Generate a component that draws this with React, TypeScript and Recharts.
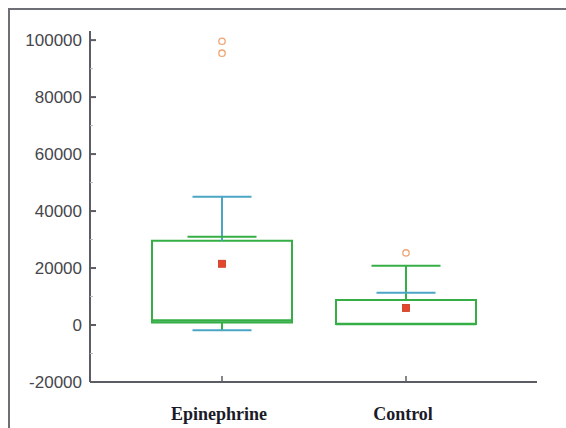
import { ComposedChart, Bar, Scatter, XAxis, YAxis, ReferenceLine } from "recharts";

// values
const GROUPS = ["Epinephrine", "Control"];
const Q1 = [900, 400];
const MEDIAN = [1600, 400];
const Q3 = [29600, 8800];
const MEAN = [21500, 6000];
const BLUE_CAP = [45000, 11300];
const GREEN_CAP = [31000, 20800];
const LOW_CAP = [-1800, null];
const OUTLIERS = [[99600, 95400], [25300]];
const Y_TICKS = [-20000, -10000, 0, 10000, 20000, 30000, 40000, 50000, 60000, 70000, 80000, 90000, 100000];

const GREEN = "#35ae46";
const BLUE = "#4ba6c6";
const AXIS = "#5c5c64";

const boxRows = GROUPS.map((name, i) => ({ name, box: [Q1[i], Q3[i]] }));
const medianPts = GROUPS.map((name, i) => ({ name, v: MEDIAN[i] }));
const meanPts = GROUPS.map((name, i) => ({ name, v: MEAN[i] }));
const bluePts = GROUPS.map((name, i) => ({ name, v: BLUE_CAP[i] }));
const greenPts = GROUPS.map((name, i) => ({ name, v: GREEN_CAP[i] }));
const lowPts = GROUPS.flatMap((name, i) => (LOW_CAP[i] == null ? [] : [{ name, v: LOW_CAP[i] }]));
const outlierPts = GROUPS.flatMap((name, i) => OUTLIERS[i].map((v) => ({ name, v })));

const hLine = (w: number, color: string, sw = 2) => (p: any) => (
  <line x1={p.cx - w / 2} x2={p.cx + w / 2} y1={p.cy} y2={p.cy} stroke={color} strokeWidth={sw} />
);

const meanShape = (p: any) => (
  <rect x={p.cx - 3.5} y={p.cy - 3.5} width={7} height={7} fill="#e4472e" stroke="#c8381f" strokeWidth={0.8} />
);

const outlierShape = (p: any) => (
  <circle cx={p.cx} cy={p.cy} r={3.2} fill="#fff" stroke="#f0a474" strokeWidth={1.3} />
);

const YTick = ({ x, y, payload }: any) => {
  const major = payload.value % 20000 === 0;
  return (
    <g>
      <line x1={x} x2={x + (major ? 6 : 3)} y1={y} y2={y} stroke={major ? AXIS : "#b8b8be"} strokeWidth={major ? 2 : 1} />
      {major && (
        <text x={x - 8} y={y} dy="0.35em" textAnchor="end" fontSize={17} fill="#46464b"
          fontFamily="'Liberation Sans', Arial, sans-serif">
          {payload.value}
        </text>
      )}
    </g>
  );
};

const XTick = ({ x, y, payload }: any) => (
  <g>
    <line x1={x} x2={x} y1={y} y2={y - 6} stroke={AXIS} strokeWidth={1.5} />
    <text x={x - 3} y={y + 38} textAnchor="middle" fontSize={18} fontWeight="bold" fill="#1b1b28"
      fontFamily="'Liberation Serif', 'Times New Roman', serif">
      {payload.value}
    </text>
  </g>
);

export default function App() {
  return (
    <div
      style={{
        position: "absolute",
        top: 8,
        left: 8,
        width: 556,
        height: 418,
        borderTop: "2px solid #6e6e76",
        borderLeft: "2px solid #6e6e76",
        background: "#fff",
      }}
    >
      <ComposedChart width={556} height={418} data={boxRows} margin={{ top: 21, right: 29, bottom: 0, left: 0 }}>
        <XAxis
          dataKey="name"
          allowDuplicatedCategory={false}
          padding={{ left: 40, right: 39 }}
          height={46}
          tickSize={0}
          tickMargin={0}
          tick={<XTick />}
          axisLine={{ stroke: AXIS, strokeWidth: 2 }}
        />
        <YAxis
          type="number"
          domain={[-20000, 103200]}
          ticks={Y_TICKS}
          interval={0}
          width={80}
          tickSize={0}
          tickMargin={0}
          tick={<YTick />}
          axisLine={{ stroke: AXIS, strokeWidth: 2 }}
          allowDataOverflow
        />
        <Bar dataKey="box" barSize={140} fill="none" stroke={GREEN} strokeWidth={2} isAnimationActive={false} />
        {GROUPS.map((name, i) => {
          const top = Math.max(BLUE_CAP[i], GREEN_CAP[i]);
          return (
            <ReferenceLine key={name + "up"} segment={[{ x: name, y: top }, { x: name, y: Q3[i] }]}
              stroke={top === BLUE_CAP[i] ? BLUE : GREEN} strokeWidth={2} />
          );
        })}
        {GROUPS.map((name, i) =>
          LOW_CAP[i] == null ? null : (
            <ReferenceLine key={name + "lo"} segment={[{ x: name, y: Q1[i] }, { x: name, y: LOW_CAP[i] as number }]}
              stroke={GREEN} strokeWidth={2} />
          )
        )}
        <Scatter data={medianPts} dataKey="v" shape={hLine(140, GREEN, 2.5)} isAnimationActive={false} />
        <Scatter data={greenPts} dataKey="v" shape={hLine(69, GREEN)} isAnimationActive={false} />
        <Scatter data={bluePts} dataKey="v" shape={hLine(59, BLUE)} isAnimationActive={false} />
        <Scatter data={lowPts} dataKey="v" shape={hLine(59, BLUE)} isAnimationActive={false} />
        <Scatter data={meanPts} dataKey="v" shape={meanShape} isAnimationActive={false} />
        <Scatter data={outlierPts} dataKey="v" shape={outlierShape} isAnimationActive={false} />
      </ComposedChart>
    </div>
  );
}
